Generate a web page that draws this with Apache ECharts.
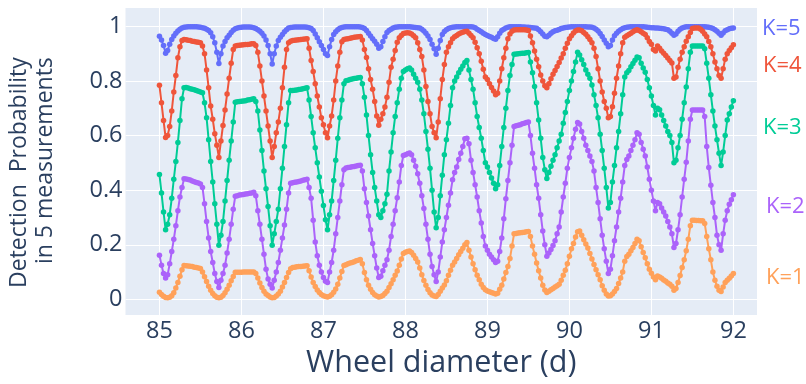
<!DOCTYPE html>
<html>
<head>
<meta charset="utf-8">
<script src="https://cdn.jsdelivr.net/npm/echarts@6.0.0/dist/echarts.min.js"></script>
<style>
  html, body { margin: 0; padding: 0; background: #ffffff; }
  #chart { width: 806px; height: 384px; }
</style>
</head>
<body>
<div id="chart"></div>
<script>
// Wheel diameters are sampled every 0.025 d from 85 to 92.
const diameterStart = 85;
const diameterStep = 0.025;
const sampleCount = 281;
const diameters = Array.from({ length: sampleCount }, (_, i) => +(diameterStart + i * diameterStep).toFixed(3));

// Detection probability in 5 measurements, one array per K (rows = 85.., 86.., ... 91.., 92).
const probK5 = [
  0.964,0.95,0.93,0.902,0.912,0.935,0.952,0.965,0.975,0.983,0.99,0.994,0.997,0.998,0.999,0.999,0.999,0.999,0.999,0.998,0.997,0.995,0.993,0.99,0.985,0.977,0.962,0.94,0.905,0.864,0.9,0.928,0.945,0.958,0.968,0.978,0.986,0.991,0.994,0.996,
  0.997,0.998,0.998,0.998,0.998,0.997,0.995,0.992,0.988,0.982,0.975,0.965,0.95,0.93,0.9,0.862,0.9,0.928,0.948,0.96,0.97,0.98,0.988,0.994,0.996,0.997,0.998,0.998,0.998,0.998,0.998,0.998,0.997,0.995,0.992,0.985,0.972,0.958,0.944,0.93,
  0.915,0.9,0.893,0.925,0.952,0.97,0.98,0.988,0.993,0.996,0.998,0.999,0.999,0.999,0.999,0.999,0.999,0.999,0.998,0.996,0.992,0.985,0.975,0.965,0.955,0.946,0.935,0.92,0.925,0.945,0.962,0.978,0.985,0.99,0.994,0.997,0.998,0.999,0.999,0.999,
  0.999,0.999,0.999,0.998,0.997,0.996,0.995,0.994,0.99,0.983,0.975,0.965,0.952,0.935,0.918,0.898,0.92,0.948,0.97,0.981,0.988,0.992,0.995,0.997,0.998,0.999,0.999,0.999,0.999,0.999,0.999,0.999,0.999,0.998,0.995,0.99,0.985,0.98,0.975,0.97,
  0.967,0.963,0.96,0.956,0.953,0.962,0.975,0.985,0.99,0.994,0.997,0.999,0.999,0.999,0.999,0.999,0.999,0.998,0.998,0.997,0.997,0.996,0.995,0.994,0.993,0.988,0.98,0.972,0.964,0.962,0.968,0.975,0.98,0.984,0.986,0.989,0.992,0.994,0.996,0.997,
  0.998,0.999,0.999,0.999,0.999,0.999,0.999,0.999,0.999,0.998,0.998,0.997,0.994,0.99,0.983,0.974,0.963,0.95,0.938,0.925,0.93,0.95,0.966,0.975,0.982,0.988,0.992,0.995,0.997,0.998,0.999,0.999,0.999,0.999,0.999,0.999,0.999,0.998,0.997,0.996,
  0.995,0.995,0.994,0.994,0.993,0.992,0.991,0.99,0.988,0.982,0.975,0.968,0.972,0.982,0.99,0.994,0.997,0.999,0.999,0.999,0.999,0.999,0.999,0.999,0.999,0.999,0.999,0.998,0.997,0.995,0.992,0.988,0.982,0.975,0.968,0.976,0.984,0.988,0.991,0.993,
  0.994
];
const probK4 = [
  0.784,0.72,0.655,0.593,0.6,0.633,0.69,0.76,0.82,0.885,0.925,0.948,0.952,0.951,0.949,0.948,0.946,0.945,0.943,0.942,0.94,0.928,0.9,0.84,0.775,0.708,0.66,0.607,0.565,0.52,0.58,0.637,0.694,0.752,0.81,0.865,0.915,0.928,0.93,0.931,
  0.932,0.933,0.934,0.934,0.935,0.936,0.936,0.93,0.905,0.855,0.8,0.745,0.69,0.635,0.58,0.52,0.56,0.61,0.65,0.7,0.775,0.85,0.915,0.94,0.946,0.948,0.949,0.95,0.951,0.952,0.953,0.954,0.955,0.92,0.875,0.835,0.79,0.745,0.705,0.665,
  0.64,0.61,0.592,0.635,0.672,0.73,0.8,0.855,0.905,0.944,0.952,0.954,0.955,0.957,0.958,0.96,0.961,0.962,0.963,0.95,0.915,0.886,0.845,0.805,0.77,0.725,0.672,0.638,0.66,0.68,0.705,0.74,0.795,0.85,0.88,0.912,0.942,0.958,0.967,0.974,
  0.976,0.977,0.976,0.972,0.966,0.958,0.94,0.915,0.89,0.84,0.78,0.725,0.68,0.633,0.61,0.592,0.65,0.735,0.805,0.86,0.905,0.925,0.94,0.955,0.962,0.967,0.972,0.976,0.979,0.981,0.982,0.975,0.967,0.958,0.942,0.922,0.9,0.872,0.843,0.815,
  0.805,0.79,0.776,0.763,0.75,0.755,0.8,0.845,0.885,0.92,0.955,0.972,0.982,0.987,0.988,0.988,0.988,0.988,0.988,0.987,0.985,0.965,0.94,0.91,0.88,0.852,0.822,0.8,0.783,0.775,0.79,0.808,0.825,0.838,0.853,0.868,0.884,0.9,0.92,0.938,
  0.955,0.966,0.976,0.983,0.987,0.987,0.984,0.978,0.971,0.962,0.952,0.94,0.92,0.89,0.845,0.8,0.76,0.725,0.7,0.665,0.67,0.706,0.755,0.81,0.855,0.9,0.94,0.96,0.966,0.97,0.975,0.98,0.985,0.988,0.985,0.98,0.975,0.97,0.958,0.945,
  0.935,0.915,0.91,0.928,0.92,0.91,0.902,0.893,0.884,0.875,0.866,0.81,0.815,0.85,0.88,0.905,0.925,0.946,0.962,0.978,0.992,0.994,0.994,0.994,0.99,0.982,0.972,0.962,0.945,0.925,0.9,0.87,0.845,0.82,0.81,0.845,0.88,0.9,0.912,0.922,
  0.933
];
const probK3 = [
  0.457,0.39,0.32,0.255,0.275,0.31,0.37,0.44,0.505,0.575,0.655,0.735,0.775,0.776,0.774,0.772,0.77,0.768,0.765,0.762,0.76,0.757,0.72,0.665,0.585,0.505,0.43,0.35,0.275,0.198,0.235,0.285,0.36,0.435,0.51,0.58,0.65,0.722,0.724,0.725,
  0.726,0.727,0.728,0.73,0.731,0.733,0.735,0.725,0.69,0.62,0.545,0.47,0.405,0.34,0.27,0.198,0.24,0.285,0.33,0.405,0.48,0.56,0.64,0.72,0.765,0.765,0.766,0.767,0.769,0.77,0.772,0.773,0.775,0.73,0.67,0.61,0.555,0.5,0.448,0.396,
  0.344,0.292,0.255,0.31,0.36,0.435,0.51,0.59,0.665,0.73,0.79,0.801,0.803,0.805,0.807,0.809,0.81,0.812,0.813,0.79,0.74,0.675,0.6,0.53,0.465,0.41,0.36,0.31,0.3,0.325,0.35,0.385,0.47,0.54,0.61,0.67,0.72,0.77,0.81,0.835,
  0.84,0.845,0.848,0.84,0.825,0.81,0.795,0.77,0.73,0.68,0.615,0.55,0.48,0.4,0.32,0.262,0.3,0.38,0.455,0.53,0.585,0.645,0.71,0.775,0.8,0.815,0.83,0.843,0.855,0.868,0.875,0.84,0.805,0.77,0.72,0.67,0.63,0.59,0.545,0.5,
  0.485,0.465,0.445,0.425,0.405,0.42,0.49,0.56,0.63,0.7,0.765,0.82,0.86,0.898,0.899,0.9,0.901,0.902,0.902,0.903,0.904,0.87,0.83,0.78,0.72,0.657,0.59,0.52,0.475,0.443,0.465,0.488,0.51,0.53,0.555,0.58,0.605,0.645,0.685,0.725,
  0.765,0.8,0.835,0.87,0.905,0.895,0.878,0.86,0.84,0.825,0.81,0.785,0.75,0.71,0.665,0.605,0.545,0.48,0.41,0.335,0.355,0.43,0.49,0.555,0.615,0.68,0.75,0.815,0.83,0.838,0.852,0.864,0.876,0.888,0.885,0.865,0.848,0.832,0.805,0.775,
  0.745,0.71,0.675,0.7,0.695,0.675,0.655,0.635,0.615,0.6,0.575,0.5,0.51,0.555,0.6,0.66,0.72,0.778,0.845,0.905,0.928,0.928,0.928,0.928,0.928,0.928,0.918,0.865,0.81,0.75,0.69,0.635,0.585,0.535,0.49,0.54,0.6,0.657,0.68,0.705,
  0.728
];
const probK2 = [
  0.162,0.125,0.095,0.078,0.09,0.13,0.175,0.22,0.27,0.325,0.375,0.41,0.442,0.441,0.439,0.437,0.434,0.431,0.428,0.426,0.423,0.41,0.35,0.285,0.225,0.175,0.135,0.095,0.065,0.043,0.07,0.095,0.125,0.17,0.22,0.275,0.33,0.378,0.38,0.382,
  0.383,0.384,0.386,0.387,0.389,0.39,0.392,0.38,0.325,0.275,0.22,0.165,0.11,0.075,0.055,0.042,0.07,0.1,0.135,0.18,0.225,0.272,0.33,0.39,0.425,0.427,0.429,0.43,0.432,0.434,0.436,0.438,0.44,0.41,0.37,0.29,0.21,0.16,0.125,0.1,
  0.08,0.066,0.062,0.1,0.135,0.18,0.24,0.3,0.36,0.42,0.475,0.481,0.483,0.484,0.486,0.487,0.489,0.49,0.491,0.47,0.405,0.355,0.305,0.255,0.205,0.16,0.115,0.08,0.085,0.105,0.125,0.145,0.18,0.23,0.275,0.325,0.372,0.43,0.49,0.527,
  0.53,0.533,0.536,0.53,0.51,0.488,0.46,0.425,0.38,0.333,0.275,0.22,0.165,0.12,0.09,0.065,0.1,0.155,0.21,0.255,0.3,0.345,0.39,0.438,0.465,0.485,0.512,0.535,0.56,0.588,0.59,0.57,0.51,0.465,0.42,0.375,0.325,0.28,0.23,0.195,
  0.18,0.165,0.155,0.145,0.135,0.14,0.175,0.225,0.295,0.369,0.435,0.5,0.565,0.633,0.636,0.638,0.64,0.643,0.645,0.648,0.65,0.6,0.535,0.48,0.42,0.37,0.31,0.25,0.2,0.158,0.17,0.183,0.197,0.215,0.24,0.265,0.32,0.375,0.425,0.48,
  0.52,0.555,0.59,0.623,0.648,0.642,0.615,0.59,0.565,0.545,0.525,0.505,0.47,0.41,0.355,0.295,0.235,0.185,0.14,0.095,0.11,0.16,0.215,0.265,0.32,0.37,0.43,0.49,0.512,0.525,0.545,0.565,0.585,0.61,0.605,0.575,0.55,0.525,0.485,0.44,
  0.4,0.36,0.325,0.355,0.35,0.335,0.32,0.305,0.285,0.265,0.24,0.19,0.205,0.255,0.31,0.375,0.44,0.502,0.58,0.66,0.694,0.694,0.694,0.694,0.694,0.694,0.67,0.56,0.483,0.418,0.355,0.3,0.235,0.2,0.18,0.24,0.29,0.325,0.348,0.365,
  0.383
];
const probK1 = [
  0.026,0.018,0.011,0.007,0.006,0.008,0.013,0.024,0.042,0.062,0.085,0.108,0.124,0.123,0.122,0.121,0.12,0.118,0.117,0.115,0.113,0.1,0.083,0.065,0.048,0.033,0.021,0.013,0.008,0.006,0.008,0.014,0.024,0.037,0.052,0.068,0.084,0.099,0.099,0.099,
  0.099,0.1,0.1,0.1,0.1,0.1,0.1,0.095,0.078,0.06,0.043,0.03,0.02,0.014,0.009,0.006,0.007,0.012,0.02,0.03,0.045,0.062,0.08,0.098,0.112,0.117,0.118,0.119,0.12,0.12,0.121,0.122,0.123,0.105,0.082,0.062,0.047,0.034,0.025,0.018,
  0.013,0.01,0.009,0.011,0.017,0.026,0.038,0.055,0.078,0.102,0.124,0.127,0.13,0.133,0.135,0.138,0.141,0.143,0.146,0.13,0.098,0.072,0.052,0.037,0.025,0.017,0.012,0.009,0.01,0.014,0.021,0.03,0.043,0.057,0.072,0.088,0.104,0.125,0.148,0.168,
  0.173,0.175,0.177,0.172,0.162,0.15,0.137,0.115,0.09,0.069,0.052,0.036,0.024,0.016,0.012,0.01,0.018,0.03,0.042,0.053,0.068,0.088,0.107,0.125,0.137,0.15,0.163,0.175,0.187,0.2,0.208,0.18,0.155,0.13,0.108,0.088,0.072,0.055,0.043,0.035,
  0.031,0.028,0.025,0.022,0.02,0.022,0.037,0.052,0.075,0.098,0.12,0.15,0.195,0.24,0.241,0.243,0.244,0.245,0.246,0.248,0.249,0.23,0.195,0.165,0.133,0.105,0.078,0.052,0.034,0.025,0.03,0.035,0.04,0.045,0.05,0.055,0.07,0.088,0.107,0.13,
  0.158,0.185,0.205,0.228,0.248,0.25,0.235,0.218,0.203,0.188,0.168,0.148,0.128,0.108,0.09,0.072,0.05,0.033,0.02,0.012,0.013,0.02,0.029,0.04,0.058,0.078,0.1,0.14,0.157,0.165,0.178,0.19,0.205,0.22,0.215,0.193,0.172,0.152,0.13,0.11,
  0.096,0.082,0.072,0.086,0.082,0.077,0.071,0.066,0.06,0.055,0.048,0.033,0.04,0.062,0.087,0.117,0.145,0.178,0.22,0.27,0.29,0.29,0.289,0.289,0.288,0.288,0.278,0.23,0.185,0.145,0.1,0.07,0.048,0.033,0.029,0.045,0.062,0.07,0.077,0.086,
  0.095
];

const xTicks = [85, 86, 87, 88, 89, 90, 91, 92];
const yTicks = [0, 0.2, 0.4, 0.6, 0.8, 1];

// Drawn back to front: K=5 first, K=1 last. Label positions are in pixels, right of the plot.
const curves = [
  { name: 'K=5', values: probK5, color: '#636EFA', labelX: 762, labelY: 29 },
  { name: 'K=4', values: probK4, color: '#EF553B', labelX: 763, labelY: 66 },
  { name: 'K=3', values: probK3, color: '#00CC96', labelX: 763, labelY: 128 },
  { name: 'K=2', values: probK2, color: '#AB63FA', labelX: 766, labelY: 207 },
  { name: 'K=1', values: probK1, color: '#FFA15A', labelX: 766, labelY: 278 }
];

const textColor = '#2a3f5f';
const fontFamily = '"Open Sans", "DejaVu Sans", sans-serif';

const chart = echarts.init(document.getElementById('chart'), null, { renderer: 'canvas' });

chart.setOption({
  animation: false,
  backgroundColor: '#ffffff',
  grid: {
    left: 115, right: 49, top: 8, bottom: 64,
    show: true, backgroundColor: '#E5ECF6', borderWidth: 0
  },
  xAxis: {
    type: 'value',
    min: 84.586, max: 92.288,
    name: 'Wheel diameter (d)',
    nameLocation: 'middle',
    nameGap: 31,
    nameTextStyle: { color: textColor, fontSize: 30.5, fontFamily: fontFamily, verticalAlign: 'top' },
    axisLine: { show: false },
    axisTick: { show: false, customValues: xTicks },
    axisLabel: { customValues: xTicks, color: textColor, fontSize: 23.5, fontFamily: fontFamily, margin: 4,
                 formatter: v => String(v) },
    splitLine: { show: true, lineStyle: { color: '#ffffff', width: 1 } }
  },
  yAxis: {
    type: 'value',
    min: -0.0577, max: 1.0674,
    name: '{a|Detection  Probability}\n{a|in 5 measurements}',
    nameLocation: 'middle',
    nameRotate: 90,
    nameGap: 67,
    nameTextStyle: {
      color: textColor, fontSize: 23, fontFamily: fontFamily, align: 'center',
      padding: [0, 22, 0, 0],
      rich: { a: { color: textColor, fontSize: 23, fontFamily: fontFamily, lineHeight: 26, align: 'right' } }
    },
    axisLine: { show: false },
    axisTick: { show: false, customValues: yTicks },
    axisLabel: { customValues: yTicks, color: textColor, fontSize: 23.5, fontFamily: fontFamily, margin: 3,
                 formatter: v => String(v) },
    splitLine: { show: true, lineStyle: { color: '#ffffff', width: 1 } }
  },
  graphic: curves.map(c => ({
    type: 'text',
    x: c.labelX, y: c.labelY,
    style: { text: c.name, fill: c.color, font: '22px ' + fontFamily, verticalAlign: 'middle', align: 'left' },
    silent: true
  })),
  series: curves.map(c => ({
    name: c.name,
    type: 'line',
    data: diameters.map((d, i) => [d, c.values[i]]),
    showSymbol: true,
    showAllSymbol: true,
    symbol: 'circle',
    symbolSize: 5.5,
    itemStyle: { color: c.color },
    lineStyle: { color: c.color, width: 2 },
    silent: true
  }))
});
</script>
</body>
</html>
